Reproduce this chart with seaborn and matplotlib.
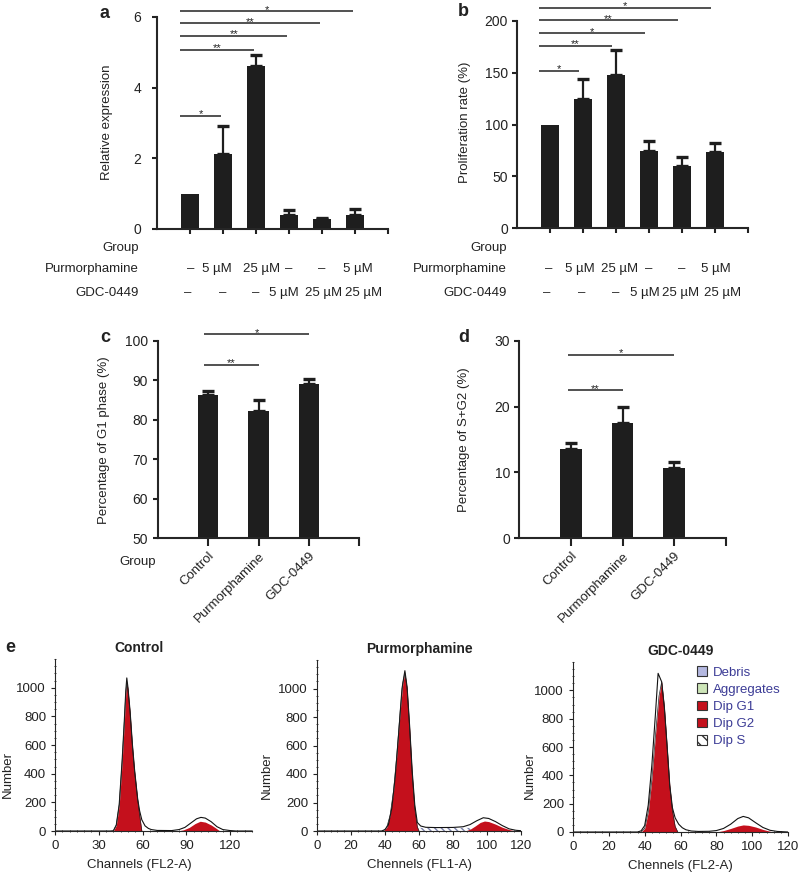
import numpy as np
import pandas as pd
import matplotlib
matplotlib.use("Agg")
import matplotlib.pyplot as plt
import seaborn as sns
from matplotlib.patches import Patch
from matplotlib.ticker import MultipleLocator

# ------------------------------------------------------------------ data
a_groups = ["g1", "g2", "g3", "g4", "g5", "g6"]
a_values = [1.0, 2.11, 4.60, 0.39, 0.27, 0.41]
a_errors = [0.0, 0.81, 0.33, 0.14, 0.05, 0.16]
a_sig_pairs = [(0, 1), (0, 2), (0, 3), (0, 4), (0, 5)]
a_sig_y = [3.20, 5.08, 5.47, 5.82, 6.16]
a_sig_labels = ["*", "**", "**", "**", "*"]

b_groups = a_groups
b_values = [100, 124.8, 147.7, 74, 60, 73]
b_errors = [0, 19.2, 24.3, 10, 9, 9]
b_sig_pairs = [(0, 1), (0, 2), (0, 3), (0, 4), (0, 5)]
b_sig_y = [151.6, 176, 188, 200.6, 213]
b_sig_labels = ["*", "**", "*", "**", "*"]

purm_row = ["\u2013", "5 \u00b5M", "25 \u00b5M", "\u2013", "\u2013", "5 \u00b5M"]
gdc_row = ["\u2013", "\u2013", "\u2013", "5 \u00b5M", "25 \u00b5M", "25 \u00b5M"]

cd_groups = ["Control", "Purmorphamine", "GDC-0449"]
c_values = [86.3, 82.3, 89.2]
c_errors = [1.1, 2.6, 1.1]
c_sig_pairs = [(0, 1), (0, 2)]
c_sig_y = [93.9, 101.7]
c_sig_labels = ["**", "*"]

d_values = [13.5, 17.5, 10.6]
d_errors = [0.9, 2.5, 1.0]
d_sig_pairs = [(0, 1), (0, 2)]
d_sig_y = [22.5, 27.9]
d_sig_labels = ["**", "*"]

# flow cytometry histograms (channel, count)
ctrl_total_x = [0, 38, 40, 42, 44, 46, 47.5, 48.5, 49.2, 50, 51.5, 53, 54.5, 56, 56.7, 58, 59.5, 61.7, 64, 66, 70,
                80, 85, 89, 93, 97, 100, 103, 107, 111, 115, 120, 124, 135]
ctrl_total_y = [0, 0, 2, 42, 185, 490, 770, 975, 1068, 1000, 830, 610, 430, 285, 220, 140, 78, 36, 18, 10, 4,
                3, 10, 25, 55, 85, 95, 90, 65, 30, 10, 3, 0, 0]
ctrl_g1_x = [40, 42, 44, 46, 47.5, 48.5, 49.2, 50, 51.5, 53, 54.5, 56, 56.7, 58, 59.5]
ctrl_g1_y = [0, 40, 180, 480, 760, 960, 1040, 990, 820, 600, 420, 280, 215, 110, 0]
ctrl_g2_x = [84, 88, 92, 96, 99.5, 103, 107, 110, 113]
ctrl_g2_y = [0, 8, 25, 52, 68, 62, 42, 22, 0]

purm_total_x = [0, 38, 40, 42, 44, 46, 48, 50, 51.7, 53, 54.5, 56, 57.5, 59, 61, 64, 70, 80, 86, 90, 94, 97.8,
                101, 105, 109, 113, 117, 120]
purm_total_y = [0, 0, 10, 45, 160, 380, 680, 1000, 1125, 1010, 735, 420, 185, 60, 35, 26, 24, 25, 30, 45, 72, 93,
                88, 66, 38, 15, 5, 2]
purm_g1_x = [39, 41, 43, 45, 47, 49, 50.5, 51.7, 53, 54.5, 56, 57.5, 59, 60]
purm_g1_y = [0, 25, 110, 280, 540, 850, 1040, 1110, 1000, 720, 400, 160, 30, 0]
purm_s_x = [42, 46, 50, 60, 70, 80, 88, 95, 100, 106]
purm_s_y = [0, 12, 20, 22, 22, 22, 22, 20, 12, 0]
purm_g2_x = [87, 90, 93, 96, 98.5, 101, 105, 109, 113, 117]
purm_g2_y = [0, 12, 35, 60, 70, 66, 48, 26, 10, 0]

gdc_total_x = [0, 36, 38, 40, 42, 44, 46, 47.5, 48.5, 49.5, 51, 52.5, 54, 55.5, 57, 59, 61, 63, 66, 70, 76, 80,
               84, 88, 92, 95, 98, 102, 106, 110, 114, 120]
gdc_total_y = [0, 0, 8, 45, 190, 470, 830, 1120, 1090, 1060, 880, 610, 330, 170, 100, 55, 30, 16, 7, 4, 5, 10,
               25, 55, 95, 110, 100, 65, 32, 12, 4, 0]
gdc_g1_x = [38, 40, 42, 44, 46, 48, 49.5, 51, 52.5, 54, 55.5, 57, 58.5]
gdc_g1_y = [0, 25, 140, 370, 680, 960, 1060, 880, 610, 330, 150, 40, 0]
gdc_g2_x = [80, 84, 88, 92, 95, 98, 102, 106, 110, 112]
gdc_g2_y = [0, 10, 25, 42, 50, 47, 35, 18, 5, 0]

legend_labels = ["Debris", "Aggregates", "Dip G1", "Dip G2", "Dip S"]

# ------------------------------------------------------------------ style
sns.set_style("ticks")
plt.rcParams["font.family"] = ["Liberation Sans", "DejaVu Sans"]
plt.rcParams["axes.linewidth"] = 1.5
plt.rcParams["text.color"] = "#222222"
plt.rcParams["axes.labelcolor"] = "#222222"
plt.rcParams["xtick.color"] = "#222222"
plt.rcParams["ytick.color"] = "#222222"

BAR = "#1e1e1e"
RED = "#c4101c"
W, H = 800, 877
fig = plt.figure(figsize=(W / 100, H / 100), dpi=100)

# small horizontal nudges of the condition labels under panels a and b (in bar units)
a_purm_nudge = [0.03, -0.2, 0.18, 0.0, 0.0, 0.1]
a_gdc_nudge = [-0.06, 0.0, 0.0, -0.15, 0.06, 0.26]
b_purm_nudge = [-0.03, -0.1, 0.1, 0.0, 0.0, 0.03]
b_gdc_nudge = [-0.09, -0.03, 0.0, -0.12, -0.03, 0.22]


def add_ax(x0, y0, x1, y1):
    return fig.add_axes([x0 / W, 1 - y1 / H, (x1 - x0) / W, (y1 - y0) / H])


def px2pt(p):
    return p * 72 / 100


def bar_panel(ax, groups, values, errors, width, capsize):
    df = pd.DataFrame({"group": groups, "value": values})
    sns.barplot(data=df, x="group", y="value", color=BAR, saturation=1, width=width,
                errorbar=None, ax=ax, edgecolor=BAR, linewidth=0)
    x = np.arange(len(groups))
    v = np.asarray(values, float)
    e = np.asarray(errors, float)
    m = e > 0
    ax.errorbar(x[m], v[m], yerr=[np.zeros(m.sum()), e[m]], fmt="none", ecolor=BAR,
                elinewidth=1.6, capsize=capsize, capthick=2.4)
    sns.despine(ax=ax)
    ax.set_xlabel("")


def sig(ax, pairs, ys, labels, s_off, e_off, fs=8):
    for (s, e), y, lab in zip(pairs, ys, labels):
        x0, x1 = s + s_off, e + e_off
        ax.plot([x0, x1], [y, y], color="#222222", lw=1.1, clip_on=False, solid_capstyle="butt")
        ax.annotate(lab, xy=((x0 + x1) / 2, y), xytext=(0, -1.0), textcoords="offset points",
                    ha="center", va="baseline", fontsize=fs, annotation_clip=False)


# ------------------------------------------------------------------ panel a
ax_a = add_ax(157, 17, 388, 229)
bar_panel(ax_a, a_groups, a_values, a_errors, 0.57, 4.5)
ax_a.set_xlim(-1, 6)
ax_a.set_ylim(0, 6)
ax_a.set_yticks([0, 2, 4, 6])
ax_a.set_xticks(range(7))
ax_a.set_xticklabels([""] * 7)
ax_a.tick_params(axis="y", length=px2pt(5), width=1.5, pad=px2pt(11), labelsize=10)
ax_a.tick_params(axis="x", length=px2pt(5), width=1.5)
ax_a.set_ylabel("Relative expression", fontsize=9.5, va="center")
ax_a.yaxis.set_label_coords(-0.216, 0.505)
sig(ax_a, a_sig_pairs, a_sig_y, a_sig_labels, -0.3, -0.05)

# ------------------------------------------------------------------ panel b
ax_b = add_ax(517, 21, 748, 228)
bar_panel(ax_b, b_groups, b_values, b_errors, 0.57, 4.5)
ax_b.set_xlim(-1, 6)
ax_b.set_ylim(0, 200)
ax_b.set_yticks([0, 50, 100, 150, 200])
ax_b.set_xticks(range(7))
ax_b.set_xticklabels([""] * 7)
ax_b.tick_params(axis="y", length=px2pt(5), width=1.5, pad=px2pt(4), labelsize=10)
ax_b.tick_params(axis="x", length=px2pt(5), width=1.5)
ax_b.set_ylabel("Proliferation rate (%)", fontsize=9.5, va="center")
ax_b.yaxis.set_label_coords(-0.225, 0.512)
sig(ax_b, b_sig_pairs, b_sig_y, b_sig_labels, -0.33, -0.12)

# row labels under a and b
for ax, (rx, gy, py, dy_), pn, gn in [
        (ax_a, (-0.078, -0.09, -0.189, -0.302), a_purm_nudge, a_gdc_nudge),
        (ax_b, (-0.043, -0.097, -0.198, -0.314), b_purm_nudge, b_gdc_nudge)]:
    tr = ax.transAxes
    ax.text(rx, gy, "Group", transform=tr, ha="right", va="center", fontsize=9.5)
    ax.text(rx, py, "Purmorphamine", transform=tr, ha="right", va="center", fontsize=9.5)
    ax.text(rx, dy_, "GDC-0449", transform=tr, ha="right", va="center", fontsize=9.5)
    xt = ax.get_xaxis_transform()
    for i, lab in enumerate(purm_row):
        ax.text(i + pn[i], py, lab, transform=xt, ha="center", va="center", fontsize=9.5)
    for i, lab in enumerate(gdc_row):
        ax.text(i + gn[i], dy_, lab, transform=xt, ha="center", va="center", fontsize=9.5)

# ------------------------------------------------------------------ panel c
ax_c = add_ax(158, 341, 359, 538)
bar_panel(ax_c, cd_groups, c_values, c_errors, 0.40, 4.5)
ax_c.set_xlim(-1, 3)
ax_c.set_ylim(50, 100)
ax_c.set_yticks(range(50, 101, 10))
ax_c.set_xticks(range(4))
ax_c.set_xticklabels(cd_groups + [""], rotation=45, ha="right", rotation_mode="anchor", fontsize=9.5)
ax_c.tick_params(axis="y", length=px2pt(5), width=1.5, pad=px2pt(5), labelsize=10)
ax_c.tick_params(axis="x", length=px2pt(8), width=1.5, pad=px2pt(4))
ax_c.set_ylabel("Percentage of G1 phase (%)", fontsize=9.5, va="center")
ax_c.yaxis.set_label_coords(-0.269, 0.497)
ax_c.text(-0.01, -0.122, "Group", transform=ax_c.transAxes, ha="right", va="center", fontsize=9.5)
sig(ax_c, c_sig_pairs, c_sig_y, c_sig_labels, -0.08, 0.0)

# ------------------------------------------------------------------ panel d
ax_d = add_ax(519, 341, 726, 538)
bar_panel(ax_d, cd_groups, d_values, d_errors, 0.42, 4.5)
ax_d.set_xlim(-1, 3)
ax_d.set_ylim(0, 30)
ax_d.set_yticks([0, 10, 20, 30])
ax_d.set_xticks(range(4))
ax_d.set_xticklabels(cd_groups + [""], rotation=45, ha="right", rotation_mode="anchor", fontsize=9.5)
ax_d.tick_params(axis="y", length=px2pt(5), width=1.5, pad=px2pt(4), labelsize=10)
ax_d.tick_params(axis="x", length=px2pt(8), width=1.5, pad=px2pt(4))
ax_d.set_ylabel("Percentage of S+G2 (%)", fontsize=9.5, va="center")
ax_d.yaxis.set_label_coords(-0.266, 0.50)
sig(ax_d, d_sig_pairs, d_sig_y, d_sig_labels, -0.06, 0.0)


# ------------------------------------------------------------------ panel e
def hist_panel(ax, title, xlabel, xmax, xmajor, xminor, tx, lx, ylx,
               total_x, total_y, g1_x, g1_y, g2_x, g2_y, s_x=None, s_y=None):
    if s_x is not None:
        ax.fill_between(s_x, 0, s_y, facecolor="white", edgecolor="#7a80aa", hatch="\\\\\\\\\\", linewidth=0)
    ax.fill_between(g1_x, 0, g1_y, color=RED, linewidth=0)
    ax.fill_between(g2_x, 0, g2_y, color=RED, linewidth=0)
    sns.lineplot(x=total_x, y=total_y, ax=ax, color="#111111", lw=0.8)
    sns.lineplot(x=g1_x, y=g1_y, ax=ax, color="#222222", lw=0.5)
    sns.despine(ax=ax)
    ax.set_xlim(0, xmax)
    ax.set_ylim(0, 1200)
    ax.xaxis.set_major_locator(MultipleLocator(xmajor))
    ax.xaxis.set_minor_locator(MultipleLocator(xminor))
    ax.set_yticks(range(0, 1001, 200))
    ax.yaxis.set_minor_locator(MultipleLocator(50))
    ax.spines["left"].set_linewidth(0.8)
    ax.spines["bottom"].set_linewidth(0.8)
    ax.tick_params(which="major", length=px2pt(4), width=0.8, pad=px2pt(5), labelsize=9.5)
    ax.tick_params(which="minor", length=px2pt(2.5), width=0.6, direction="inout")
    ax.set_xlabel(xlabel, fontsize=9.5, va="center")
    ax.xaxis.set_label_coords(tx, -0.2)
    ax.set_ylabel("Number", fontsize=9.5, va="center")
    ax.yaxis.set_label_coords(lx, ylx)
    ax.text(tx, 1.065, title, transform=ax.transAxes, ha="center", va="center",
            fontsize=10, fontweight="bold")


ax_e1 = add_ax(55, 659, 252, 831)
hist_panel(ax_e1, "Control", "Channels (FL2-A)", 135, 30, 5, 0.426, -0.241, 0.327,
           ctrl_total_x, ctrl_total_y, ctrl_g1_x, ctrl_g1_y, ctrl_g2_x, ctrl_g2_y)

ax_e2 = add_ax(317, 660, 521, 831)
hist_panel(ax_e2, "Purmorphamine", "Chennels (FL1-A)", 120, 20, 4, 0.5, -0.245, 0.327,
           purm_total_x, purm_total_y, purm_g1_x, purm_g1_y, purm_g2_x, purm_g2_y,
           purm_s_x, purm_s_y)

ax_e3 = add_ax(573, 662, 788, 832)
hist_panel(ax_e3, "GDC-0449", "Chennels (FL2-A)", 120, 20, 4, 0.5, -0.2, 0.33,
           gdc_total_x, gdc_total_y, gdc_g1_x, gdc_g1_y, gdc_g2_x, gdc_g2_y)

face = ["#b4b8e0", "#cde5b8", RED, RED, "white"]
hatches = [None, None, None, None, "\\\\\\"]
handles = [Patch(facecolor=f, edgecolor="#333333", hatch=h, linewidth=0.8, label=l)
           for f, h, l in zip(face, hatches, legend_labels)]
ax_e3.legend(handles=handles, loc="upper left", bbox_to_anchor=(0.579, 0.975), frameon=False,
             borderpad=0, borderaxespad=0, handlelength=0.75, handleheight=0.75,
             handletextpad=0.45, labelspacing=0.36, fontsize=9.5, labelcolor="#3c3c96")

# ------------------------------------------------------------------ panel letters
for lab, (x, y) in {"a": (105, 13), "b": (463, 12), "c": (105, 338), "d": (464, 338), "e": (10, 647)}.items():
    fig.text(x / W, 1 - y / H, lab, ha="center", va="center", fontsize=13, fontweight="bold")

fig.savefig("out.png", dpi=100)
